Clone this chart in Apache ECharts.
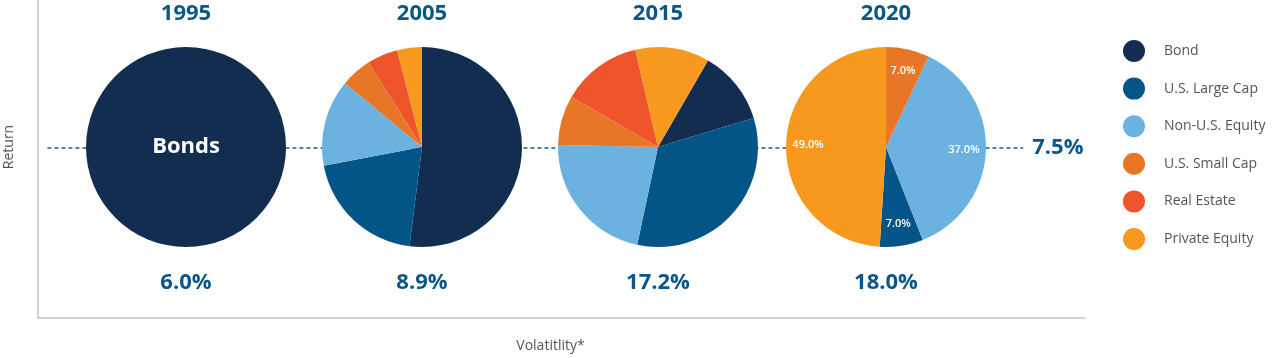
<!DOCTYPE html>
<html>
<head>
<meta charset="utf-8">
<script src="https://cdn.jsdelivr.net/npm/echarts@6/dist/echarts.min.js"></script>
<style>
html,body{margin:0;padding:0;background:#fff;}
#chart{width:1280px;height:358px;}
</style>
</head>
<body>
<div id="chart"></div>
<script>
// ---- data ----
const years = ['1995', '2005', '2015', '2020'];
const volatility = ['6.0%', '8.9%', '17.2%', '18.0%'];
const targetReturn = 7.5;
const assetClasses = ['Bond', 'U.S. Large Cap', 'Non-U.S. Equity', 'U.S. Small Cap', 'Real Estate', 'Private Equity'];
const alloc1995 = [100, 0, 0, 0, 0, 0];
const alloc2005 = [52, 20, 14, 5, 5, 4];
const alloc2015 = [12, 33, 22, 8, 13, 12];
const alloc2020 = [0, 7, 37, 7, 0, 49];
const label1995 = 'Bonds';

// ---- styles ----
const colors = ['#122d50', '#035487', '#6bb2e1', '#e77726', '#f0542b', '#f7981f'];
const blue = '#0b5788';
const grey = '#555555';
const FONT = '"Open Sans", sans-serif';
const centersX = [186, 422, 658, 886];
const centerY = 147;
const R = 100;

function toData(arr) {
  return assetClasses.map((n, i) => ({ name: n, value: arr[i], itemStyle: { color: colors[i] } }))
    .filter(d => d.value > 0);
}

const allocs = [alloc1995, alloc2005, alloc2015, alloc2020];
const pieSettings = [
  { startAngle: 90, clockwise: true },
  { startAngle: 90, clockwise: true },
  { startAngle: 60, clockwise: true },
  { startAngle: 266.4, clockwise: false }
];

const pies = allocs.map((a, k) => ({
  type: 'pie',
  z: 3,
  center: [centersX[k], centerY],
  radius: [0, R],
  startAngle: pieSettings[k].startAngle,
  clockwise: pieSettings[k].clockwise,
  silent: true,
  itemStyle: { borderWidth: 0 },
  labelLine: { show: false },
  label: k === 0 ? {
    show: true, position: 'center', formatter: label1995,
    color: '#fff', fontFamily: FONT, fontWeight: 'bold', fontSize: 22
  } : { show: false },
  data: toData(a)
}));

// transparent ring over the 2020 pie, only to carry the percentage labels further out
pies.push({
  type: 'pie',
  z: 4,
  center: [centersX[3], centerY],
  radius: [R * 0.5, R],
  startAngle: pieSettings[3].startAngle,
  clockwise: pieSettings[3].clockwise,
  silent: true,
  itemStyle: { color: 'rgba(0,0,0,0)', borderWidth: 0 },
  labelLine: { show: false },
  label: {
    show: true, position: 'inside',
    formatter: p => p.value.toFixed(1) + '%',
    color: '#fff', fontFamily: FONT, fontWeight: 600, fontSize: 11
  },
  data: toData(alloc2020).map(d => ({ name: d.name, value: d.value }))
});

const graphics = [];
years.forEach((y, k) => {
  graphics.push({
    type: 'text', x: centersX[k], y: 14,
    style: { text: y, fill: blue, font: 'bold 22px ' + FONT, textAlign: 'center', textVerticalAlign: 'middle' }
  });
  graphics.push({
    type: 'text', x: centersX[k], y: 283,
    style: { text: volatility[k], fill: blue, font: 'bold 22px ' + FONT, textAlign: 'center', textVerticalAlign: 'middle' }
  });
});

const option = {
  animation: false,
  backgroundColor: '#fff',
  grid: { left: 38, right: 195, top: 0, bottom: 40, outerBoundsMode: 'none', containLabel: false },
  xAxis: {
    type: 'value', min: 0, max: 100,
    name: 'Volatitlity*', nameLocation: 'middle', nameGap: 21,
    nameTextStyle: { color: grey, fontFamily: FONT, fontSize: 14, padding: [0, 22, 0, 0] },
    axisLine: { show: true, lineStyle: { color: '#c4c4c4', width: 1.5 } },
    axisTick: { show: false }, axisLabel: { show: false }, splitLine: { show: false }
  },
  yAxis: {
    type: 'value', min: 0, max: 14,
    name: 'Return', nameLocation: 'middle', nameGap: 22,
    nameTextStyle: { color: grey, fontFamily: FONT, fontSize: 14, padding: [0, 0, 0, 24] },
    axisLine: { show: true, lineStyle: { color: '#c4c4c4', width: 1.5 } },
    axisTick: { show: false }, axisLabel: { show: false }, splitLine: { show: false }
  },
  legend: {
    data: assetClasses,
    orient: 'vertical',
    left: 1118, top: 35,
    icon: 'circle',
    itemWidth: 50, itemHeight: 22, itemGap: 15.6,
    symbolKeepAspect: true,
    selectedMode: false,
    textStyle: { color: grey, fontFamily: FONT, fontSize: 14 }
  },
  graphic: graphics,
  series: [
    {
      type: 'line', data: [], z: 1, silent: true,
      markLine: {
        z: 1, silent: true, symbol: 'none',
        lineStyle: { color: '#1b5e8c', type: [4, 3], width: 1.5 },
        label: {
          show: true, position: 'end', distance: 9,
          formatter: targetReturn.toFixed(1) + '%',
          color: blue, fontFamily: FONT, fontWeight: 'bold', fontSize: 22
        },
        data: [[{ coord: [0.9, targetReturn] }, { coord: [94.1, targetReturn] }]]
      }
    }
  ].concat(pies)
};

const chart = echarts.init(document.getElementById('chart'), null, { renderer: 'canvas' });
chart.setOption(option);
</script>
</body>
</html>
